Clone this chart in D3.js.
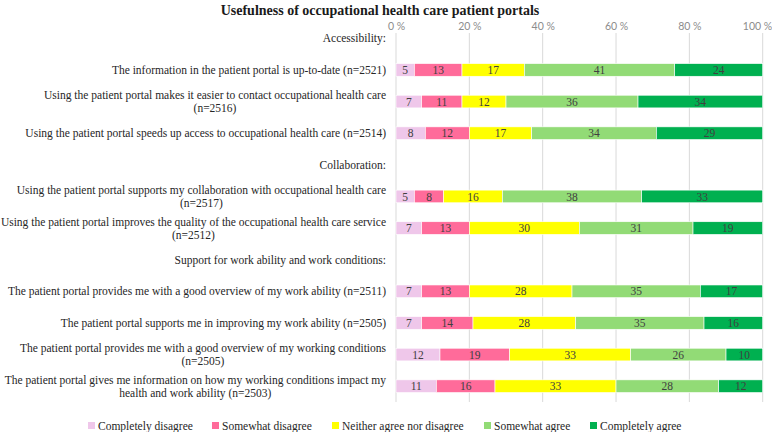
<!DOCTYPE html>
<html>
<head>
<meta charset="utf-8">
<script src="https://cdn.jsdelivr.net/npm/d3@7"></script>
<style>
  html, body { margin: 0; padding: 0; background: #fff; }
  svg { display: block; }
</style>
</head>
<body>
<svg id="chart" width="772" height="432"></svg>
<script>
// ---- data ----
const title = "Usefulness of occupational health care patient portals";
const categories = [
  ["Accessibility:"],
  ["The information in the patient portal is up-to-date (n=2521)"],
  ["Using the patient portal makes it easier to contact occupational health care", "(n=2516)"],
  ["Using the patient portal speeds up access to occupational health care (n=2514)"],
  ["Collaboration:"],
  ["Using the patient portal supports my collaboration with occupational health care", "(n=2517)"],
  ["Using the patient portal improves the quality of the occupational health care service", "(n=2512)"],
  ["Support for work ability and work conditions:"],
  ["The patient portal provides me with a good overview of my work ability (n=2511)"],
  ["The patient portal supports me in improving my work ability (n=2505)"],
  ["The patient portal provides me with a good overview of my working conditions", "(n=2505)"],
  ["The patient portal gives me information on how my working conditions impact my", "health and work ability (n=2503)"]
];
const seriesNames = ["Completely disagree", "Somewhat disagree", "Neither agree nor disagree", "Somewhat agree", "Completely agree"];
const completelyDisagree = [null, 5, 7, 8, null, 5, 7, null, 7, 7, 12, 11];
const somewhatDisagree   = [null, 13, 11, 12, null, 8, 13, null, 13, 14, 19, 16];
const neither            = [null, 17, 12, 17, null, 16, 30, null, 28, 28, 33, 33];
const somewhatAgree      = [null, 41, 36, 34, null, 38, 31, null, 35, 35, 26, 28];
const completelyAgree    = [null, 24, 34, 29, null, 33, 19, null, 17, 16, 10, 12];
const tickValues = [0, 20, 40, 60, 80, 100];
const tickLabels = ["0 %", "20 %", "40 %", "60 %", "80 %", "100 %"];
const colors = ["#efc7ea", "#ff6b9a", "#ffff00", "#92db76", "#00b050"];

// ---- chart ----
const svg = d3.select("#chart");
const serif = "'Liberation Serif', 'DejaVu Serif', serif";
const sans = "Lato, 'Open Sans', sans-serif";

const series = [completelyDisagree, somewhatDisagree, neither, somewhatAgree, completelyAgree];
const rows = categories.map((c, i) => {
  const vals = series.map(s => s[i]);
  return { i, label: c, vals, header: vals[0] === null };
});

const x = d3.scaleLinear().domain([0, 100]).range([396, 762.7]);
const y = d3.scaleBand().domain(d3.range(categories.length)).range([22.5, 402]).paddingInner(0.6).paddingOuter(0.3);

svg.append("text")
  .attr("x", 380).attr("y", 15)
  .attr("text-anchor", "middle")
  .attr("font-family", serif).attr("font-weight", "bold").attr("font-size", 14)
  .attr("fill", "#1a1a1a")
  .text(title);

// gridlines
svg.append("g").selectAll("line").data(tickValues).join("line")
  .attr("x1", d => x(d)).attr("x2", d => x(d))
  .attr("y1", 33).attr("y2", 402)
  .attr("stroke", "#d9d9d9").attr("stroke-width", 1);

// top axis labels
const axis = d3.axisTop(x).tickValues(tickValues).tickFormat((d, i) => tickLabels[i]).tickSize(0).tickPadding(0);
const gAxis = svg.append("g").attr("transform", "translate(0,30)").call(axis);
gAxis.select(".domain").remove();
gAxis.selectAll("text").attr("font-family", sans).attr("font-size", 10.5).attr("fill", "#8c8c8c");
gAxis.selectAll(".tick").filter(d => d === 100).select("text").attr("text-anchor", "end").attr("dx", "9");

// stacked bars
const stackData = rows.filter(r => !r.header);
const stacked = d3.stack().keys(d3.range(5)).value((r, k) => r.vals[k])(stackData);
const g = svg.append("g");
stacked.forEach((layer, k) => {
  const gl = g.append("g");
  gl.selectAll("rect").data(layer).join("rect")
    .attr("x", d => x(d[0]))
    .attr("width", d => x(d[1]) - x(d[0]))
    .attr("y", d => y(d.data.i))
    .attr("height", y.bandwidth())
    .attr("fill", colors[k])
    .attr("stroke", "#ffffff").attr("stroke-width", 0.6);
  gl.selectAll("text").data(layer).join("text")
    .attr("x", d => (x(d[0]) + x(d[1])) / 2)
    .attr("y", d => y(d.data.i) + y.bandwidth() / 2)
    .attr("dy", "0.36em")
    .attr("text-anchor", "middle")
    .attr("font-family", serif).attr("font-size", 11.5)
    .attr("fill", "#404040")
    .text(d => d.data.vals[k]);
});

// category labels
const labelRight = 386;
rows.forEach(r => {
  const cy = y(r.i) + y.bandwidth() / 2;
  const lineH = 13;
  const t = svg.append("text")
    .attr("font-family", serif).attr("font-size", 11.5).attr("fill", "#262626");
  if (r.label.length === 1) {
    t.attr("x", labelRight).attr("y", cy).attr("dy", "0.35em").attr("text-anchor", "end").text(r.label[0]);
  } else {
    const tmp = svg.append("text").attr("font-family", serif).attr("font-size", 11.5).text(r.label[0]);
    const w = tmp.node().getComputedTextLength();
    tmp.remove();
    const cx = labelRight - w / 2;
    t.attr("text-anchor", "middle");
    r.label.forEach((line, j) => {
      t.append("tspan").attr("x", cx)
        .attr("y", cy + (j - (r.label.length - 1) / 2) * lineH)
        .attr("dy", "0.35em").text(line);
    });
  }
});

// legend
const legendX = [88, 212, 332, 484, 590];
const lg = svg.append("g").selectAll("g").data(seriesNames).join("g")
  .attr("transform", (d, i) => `translate(${legendX[i]},426)`);
lg.append("rect").attr("x", 0).attr("y", -4).attr("width", 7).attr("height", 7)
  .attr("fill", (d, i) => colors[i]);
lg.append("text").attr("x", 10).attr("y", 0).attr("dy", "0.35em")
  .attr("font-family", serif).attr("font-size", 11.5).attr("fill", "#262626")
  .text(d => d);
</script>
</body>
</html>
